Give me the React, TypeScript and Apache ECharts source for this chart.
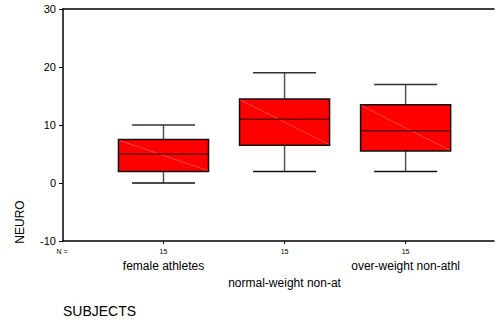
import React, { useEffect, useRef } from "react";
import * as echarts from "echarts";

const categories = ["female athletes", "normal-weight non-at", "over-weight non-athl"];
const counts = [15, 15, 15];
// [lower whisker, Q1, median, Q3, upper whisker]
const lowerWhisker = [0, 2, 2];
const q1 = [2, 6.5, 5.5];
const median = [5, 11, 9];
const q3 = [7.5, 14.5, 13.5];
const upperWhisker = [10, 19, 17];
const yTicks = [-10, 0, 10, 20, 30];

const FONT = "Liberation Sans, Arial, sans-serif";

export default function App() {
  const ref = useRef<HTMLDivElement>(null);
  useEffect(() => {
    if (!ref.current) return;
    const chart = echarts.init(ref.current, null, { renderer: "svg" });
    const data = categories.map((c, i) => [i + 1, lowerWhisker[i], q1[i], median[i], q3[i], upperWhisker[i], counts[i], i]);
    const option: any = {
      animation: false,
      grid: { left: 63, right: 1, top: 9, bottom: 79 },
      xAxis: [
        {
          type: "value",
          min: 0.17,
          max: 3.73,
          position: "bottom",
          axisLine: { show: true, onZero: false, lineStyle: { color: "#000", width: 1.5 } },
          axisTick: { show: false },
          axisLabel: { show: false },
          splitLine: { show: false },
        },
        {
          type: "value",
          min: 0.17,
          max: 3.73,
          position: "top",
          axisLine: { show: true, onZero: false, lineStyle: { color: "#000", width: 1.5 } },
          axisTick: { show: false },
          axisLabel: { show: false },
          splitLine: { show: false },
        },
      ],
      yAxis: {
        type: "value",
        min: yTicks[0],
        max: yTicks[yTicks.length - 1],
        interval: 10,
        axisLine: { show: true, onZero: false, lineStyle: { color: "#000", width: 1.5 } },
        axisTick: { show: true, length: 4, lineStyle: { color: "#000" } },
        axisLabel: { color: "#000", fontSize: 11, fontFamily: FONT, margin: 7 },
        splitLine: { show: false },
      },
      graphic: [
        {
          type: "text",
          x: 20,
          y: 222,
          rotation: Math.PI / 2,
          style: { text: "NEURO", fill: "#000", font: `12px ${FONT}`, align: "center", verticalAlign: "middle" },
        },
        {
          type: "text",
          x: 63,
          y: 311,
          style: { text: "SUBJECTS", fill: "#000", font: `14px ${FONT}`, align: "left", verticalAlign: "middle" },
        },
        {
          type: "text",
          x: 62,
          y: 251,
          style: { text: "N =", fill: "#000", font: `7px ${FONT}`, align: "center", verticalAlign: "middle" },
        },
      ],
      series: [
        {
          type: "custom",
          xAxisIndex: 0,
          data,
          clip: false,
          renderItem: (params: any, api: any) => {
            const x = api.value(0);
            const idx = api.value(7);
            const half = api.size([1, 0])[0] * 0.372;
            const wHalf = half * 0.7;
            const pLow = api.coord([x, api.value(1)]);
            const pQ1 = api.coord([x, api.value(2)]);
            const pMed = api.coord([x, api.value(3)]);
            const pQ3 = api.coord([x, api.value(4)]);
            const pHigh = api.coord([x, api.value(5)]);
            const pBase = api.coord([x, yTicks[0]]);
            const cx = pMed[0];
            const line = (x1: number, y1: number, x2: number, y2: number, color: string, w: number) => ({
              type: "line",
              shape: { x1, y1, x2, y2 },
              style: { stroke: color, lineWidth: w },
            });
            return {
              type: "group",
              children: [
                line(cx, pHigh[1], cx, pQ3[1], "#555", 1.5),
                line(cx, pQ1[1], cx, pLow[1], "#555", 1.5),
                line(cx - wHalf, pHigh[1], cx + wHalf, pHigh[1], "#333", 1.5),
                line(cx - wHalf, pLow[1], cx + wHalf, pLow[1], "#111", 1.5),
                {
                  type: "rect",
                  shape: { x: cx - half, y: pQ3[1], width: half * 2, height: pQ1[1] - pQ3[1] },
                  style: { fill: "#ff0000", stroke: "#111", lineWidth: 1.5 },
                },
                line(cx - half + 1, pQ3[1] + 1, cx + half - 1, pQ1[1] - 1, "#ff7070", 0.6),
                line(cx - half, pMed[1], cx + half, pMed[1], "#600", 1.5),
                line(cx, pBase[1], cx, pBase[1] + 3, "#000", 1),
                {
                  type: "text",
                  x: cx,
                  y: pBase[1] + 10,
                  style: { text: String(api.value(6)), fill: "#000", font: `7px ${FONT}`, align: "center", verticalAlign: "middle" },
                },
                {
                  type: "text",
                  x: cx,
                  y: pBase[1] + (idx === 1 ? 42 : 25),
                  style: { text: categories[idx], fill: "#000", font: `12px ${FONT}`, align: "center", verticalAlign: "middle" },
                },
              ],
            };
          },
        },
      ],
    };
    chart.setOption(option);
    return () => chart.dispose();
  }, []);
  return (
    <div
      ref={ref}
      style={{ position: "fixed", left: 0, top: 0, width: 495, height: 320, background: "#fff" }}
    />
  );
}
